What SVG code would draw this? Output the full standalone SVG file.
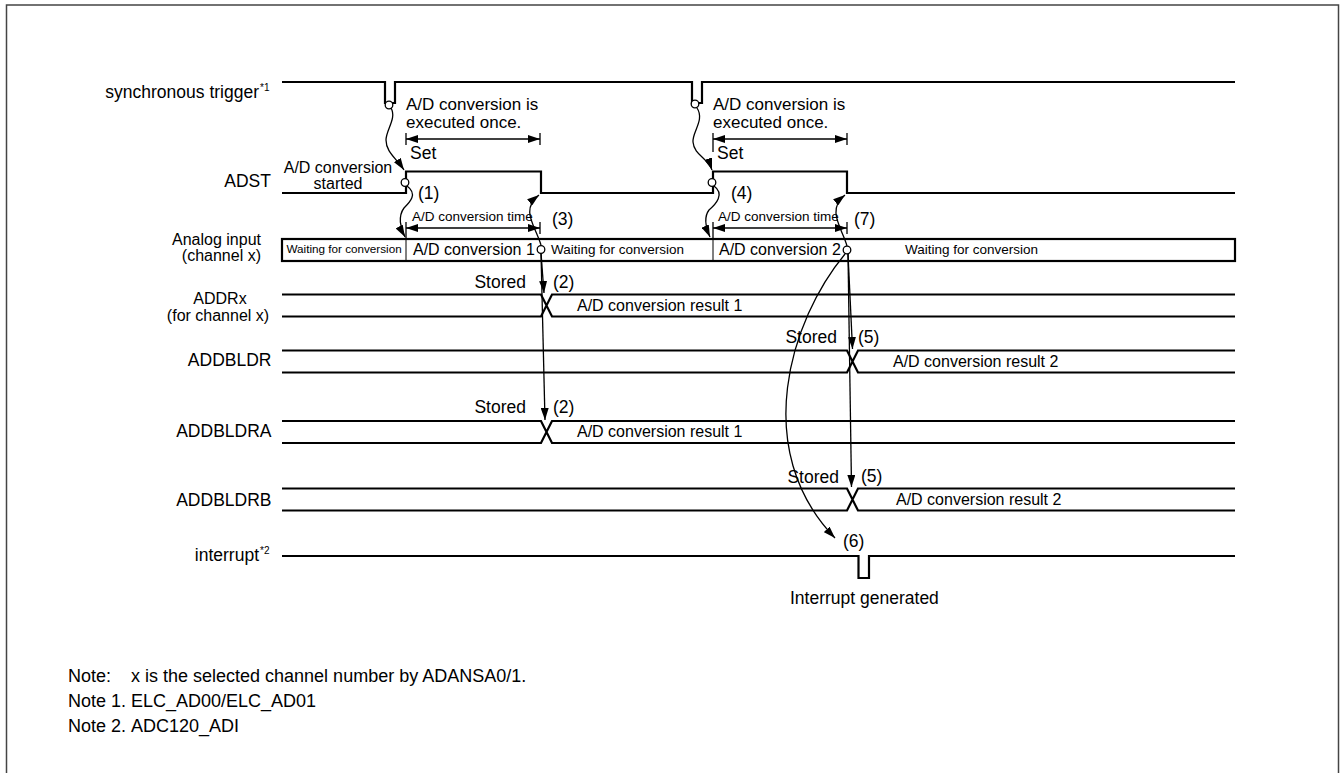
<svg xmlns="http://www.w3.org/2000/svg" width="1340" height="773" viewBox="0 0 1340 773">
<style>
text{font-family:"Liberation Sans",Arial,sans-serif;fill:#000}
.lbl{font-size:17.5px}
.lbl17{font-size:17px}
.lbl2{font-size:16px}
.note{font-size:18px}
.sm{font-size:13.5px}
.xs{font-size:11.7px}
.sup{font-size:10px}
.sig{fill:none;stroke:#000;stroke-width:2.2}
.con{fill:none;stroke:#000;stroke-width:1.3}
.dim{fill:none;stroke:#000;stroke-width:1.3}
.circ{fill:#fff;stroke:#000;stroke-width:1.3}
</style>
<defs>
<marker id="ah" viewBox="0 0 12 8" refX="12" refY="4" markerWidth="12" markerHeight="8" markerUnits="userSpaceOnUse" orient="auto">
<path d="M0,0 L12,4 L0,8 Z" fill="#000"/>
</marker>
<marker id="as" viewBox="0 0 12 8" refX="0" refY="4" markerWidth="12" markerHeight="8" markerUnits="userSpaceOnUse" orient="auto">
<path d="M12,0 L0,4 L12,8 Z" fill="#000"/>
</marker>
</defs>
<rect x="6.5" y="5" width="1332" height="790" fill="#fff" stroke="#444" stroke-width="1.5"/>

<g id="sync">
<text class="lbl" x="259" y="98" text-anchor="end">synchronous trigger</text>
<text class="sup" x="260" y="91">*1</text>
<path class="sig" d="M282,82 H385 V103 H395 V82 H692 V103 H702 V82 H1235"/>
</g>

<g id="adst">
<text class="lbl" x="271" y="187" text-anchor="end">ADST</text>
<path class="sig" d="M282,193 H406 V171.5 H541 V193 H713 V171.5 H847 V193 H1235"/>
<text class="lbl2" x="338" y="173" text-anchor="middle">A/D conversion</text>
<text class="lbl2" x="338" y="189" text-anchor="middle">started</text>
</g>

<g id="analog">
<text class="lbl2" x="261" y="245" text-anchor="end">Analog input</text>
<text class="lbl2" x="261" y="261" text-anchor="end">(channel x)</text>
<rect class="sig" x="282" y="239" width="953" height="22"/>
<line x1="406" y1="239" x2="406" y2="261" stroke="#000" stroke-width="1"/>
<line x1="713" y1="239" x2="713" y2="261" stroke="#000" stroke-width="1"/>
<text class="xs" x="286.5" y="253">Waiting for conversion</text>
<text class="lbl2" x="413" y="255">A/D conversion 1</text>
<text class="sm" x="551" y="254">Waiting for conversion</text>
<text class="lbl2" x="719" y="255">A/D conversion 2</text>
<text class="sm" x="905" y="254">Waiting for conversion</text>
</g>

<g id="addrx">
<text class="lbl2" x="220" y="304" text-anchor="middle">ADDRx</text>
<text class="lbl2" x="218" y="321" text-anchor="middle">(for channel x)</text>
<path class="sig" d="M282,294.5 H541 L552,316.5 H1235 M282,316.5 H541 L552,294.5 H1235"/>
<text class="lbl2" x="577" y="311">A/D conversion result 1</text>
</g>

<g id="addbldr">
<text class="lbl" x="271.5" y="366" text-anchor="end">ADDBLDR</text>
<path class="sig" d="M282,350.5 H847 L858,372.5 H1235 M282,372.5 H847 L858,350.5 H1235"/>
<text class="lbl2" x="893" y="367">A/D conversion result 2</text>
</g>

<g id="addbldra">
<text class="lbl" x="271.5" y="437" text-anchor="end">ADDBLDRA</text>
<path class="sig" d="M282,421 H541 L552,443 H1235 M282,443 H541 L552,421 H1235"/>
<text class="lbl2" x="577" y="437">A/D conversion result 1</text>
</g>

<g id="addbldrb">
<text class="lbl" x="271.5" y="506" text-anchor="end">ADDBLDRB</text>
<path class="sig" d="M282,488.5 H847 L858,510.5 H1235 M282,510.5 H847 L858,488.5 H1235"/>
<text class="lbl2" x="896" y="505">A/D conversion result 2</text>
</g>

<g id="interrupt">
<text class="lbl" x="259" y="561" text-anchor="end">interrupt</text>
<text class="sup" x="260" y="554">*2</text>
<path class="sig" d="M282,556 H858.5 V578 H869 V556 H1235"/>
<text class="lbl" x="790" y="604">Interrupt generated</text>
</g>

<g id="annotations">
<text class="lbl17" x="406" y="109.5">A/D conversion is</text>
<text class="lbl17" x="406" y="128">executed once.</text>
<text class="lbl" x="410" y="158.5">Set</text>
<text class="lbl17" x="713" y="109.5">A/D conversion is</text>
<text class="lbl17" x="713" y="128">executed once.</text>
<text class="lbl" x="717" y="158.5">Set</text>
<text class="lbl" x="418" y="199">(1)</text>
<text class="lbl" x="731" y="199">(4)</text>
<text class="sm" x="412" y="220.5">A/D conversion time</text>
<text class="sm" x="718" y="220.5">A/D conversion time</text>
<text class="lbl" x="552" y="225">(3)</text>
<text class="lbl" x="854" y="225">(7)</text>
<text class="lbl" x="526" y="287.5" text-anchor="end">Stored</text>
<text class="lbl" x="553" y="287.5">(2)</text>
<text class="lbl" x="526" y="413" text-anchor="end">Stored</text>
<text class="lbl" x="553" y="413">(2)</text>
<text class="lbl" x="837" y="343" text-anchor="end">Stored</text>
<text class="lbl" x="858" y="343">(5)</text>
<text class="lbl" x="839" y="482.5" text-anchor="end">Stored</text>
<text class="lbl" x="861" y="482">(5)</text>
<text class="lbl" x="843" y="547">(6)</text>
</g>

<g id="connectors">
<line class="dim" x1="406" y1="139" x2="540" y2="139" marker-start="url(#as)" marker-end="url(#ah)"/>
<line class="dim" x1="406" y1="133" x2="406" y2="145"/>
<line class="dim" x1="540" y1="133" x2="540" y2="145"/>
<line class="dim" x1="713" y1="139" x2="847" y2="139" marker-start="url(#as)" marker-end="url(#ah)"/>
<line class="dim" x1="713" y1="133" x2="713" y2="152"/>
<line class="dim" x1="847" y1="133" x2="847" y2="145"/>
<line class="dim" x1="406" y1="228" x2="540" y2="228" marker-start="url(#as)" marker-end="url(#ah)"/>
<line class="dim" x1="406" y1="222" x2="406" y2="239"/>
<line class="dim" x1="540" y1="222" x2="540" y2="234"/>
<line class="dim" x1="713" y1="228" x2="847" y2="228" marker-start="url(#as)" marker-end="url(#ah)"/>
<line class="dim" x1="713" y1="222" x2="713" y2="239"/>
<line class="dim" x1="847" y1="222" x2="847" y2="234"/>
<path class="con" d="M391,108 C397,118 386,130 386,140 C386,152 396,158 404,170" marker-end="url(#ah)"/>
<path class="con" d="M407,186 C418,194 410,202 404,208 C398,216 400,228 405,237" marker-end="url(#ah)"/>
<path class="con" d="M541,245 C535,225 520,210 539,195" marker-end="url(#ah)"/>
<path class="con" d="M541,253 L544,293" marker-end="url(#ah)"/>
<path class="con" d="M541,253 L545,420" marker-end="url(#ah)"/>
<path class="con" d="M697,108 C705,120 692,132 693,142 C694,155 708,158 712,170" marker-end="url(#ah)"/>
<path class="con" d="M714,186 C725,194 716,204 709,210 C703,218 706,228 710,237" marker-end="url(#ah)"/>
<path class="con" d="M847,246 C842,228 826,210 845,195" marker-end="url(#ah)"/>
<path class="con" d="M848,254 L852.5,349" marker-end="url(#ah)"/>
<path class="con" d="M848,254 L851.5,487" marker-end="url(#ah)"/>
<path class="con" d="M845,254 C790,320 750,450 835,538" marker-end="url(#ah)"/>
<circle class="circ" cx="389" cy="105" r="3.8"/>
<circle class="circ" cx="405" cy="182.5" r="3.8"/>
<circle class="circ" cx="541" cy="249.5" r="3.8"/>
<circle class="circ" cx="695" cy="104" r="3.8"/>
<circle class="circ" cx="712" cy="182.5" r="3.8"/>
<circle class="circ" cx="847" cy="250" r="3.8"/>
</g>

<g id="notes">
<text class="note" x="68" y="682">Note:</text>
<text class="note" x="131" y="682">x is the selected channel number by ADANSA0/1.</text>
<text class="note" x="68" y="707">Note 1.</text>
<text class="note" x="131" y="707">ELC_AD00/ELC_AD01</text>
<text class="note" x="68" y="732">Note 2.</text>
<text class="note" x="131" y="732">ADC120_ADI</text>
</g>
</svg>
